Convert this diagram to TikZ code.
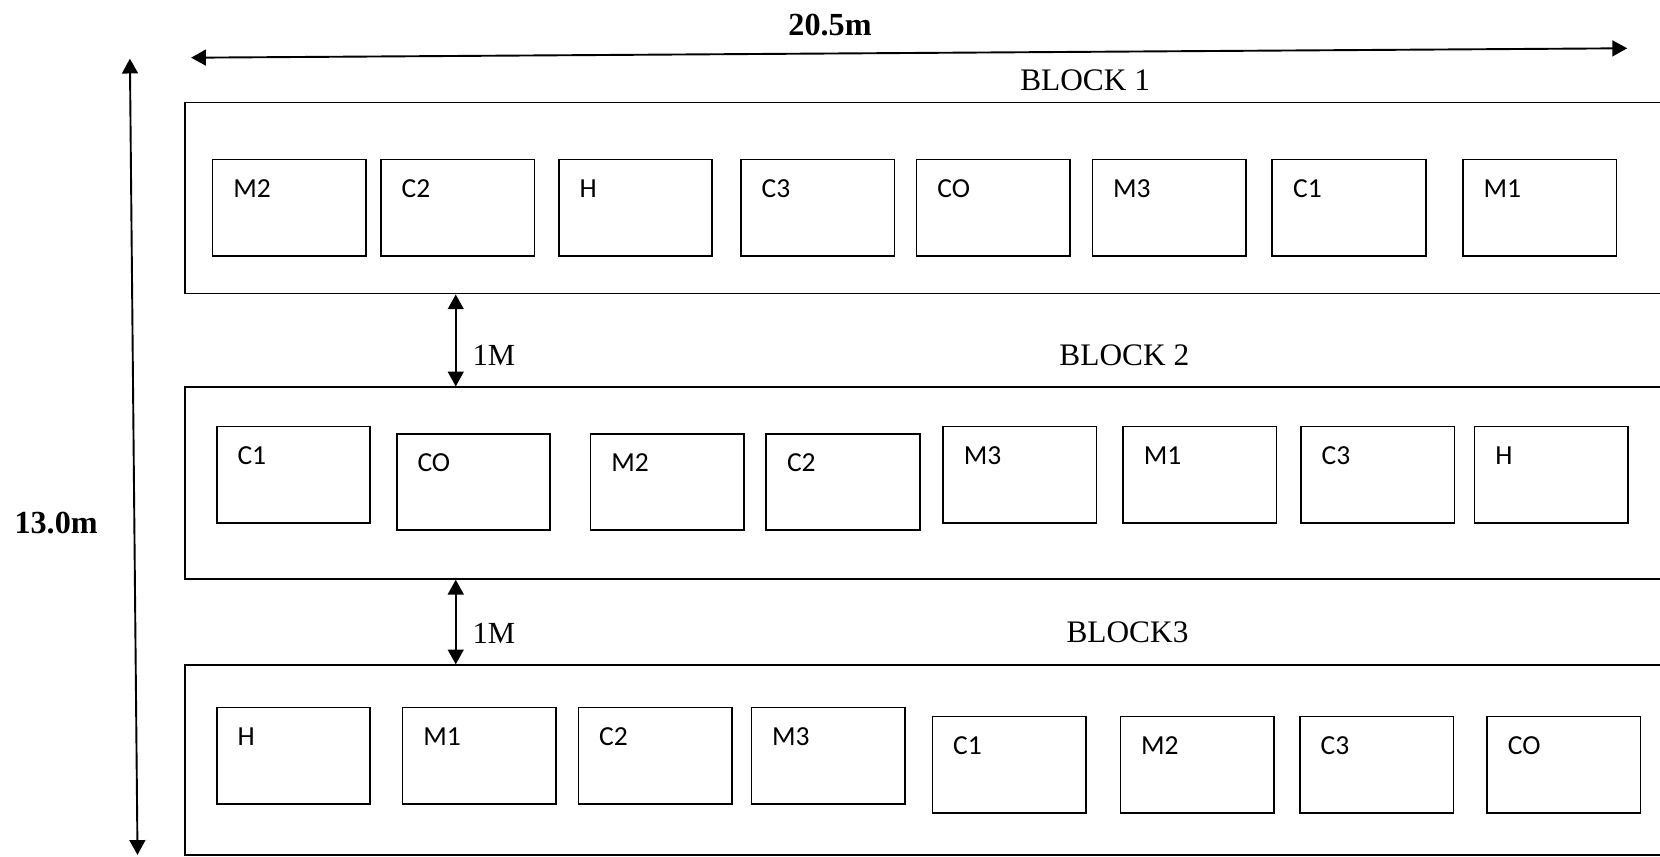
\documentclass[tikz,border=0pt]{standalone}
\usepackage{fontspec}
\setmainfont{Liberation Serif}
\newfontfamily\roomfont{Carlito}
\usetikzlibrary{arrows.meta}

\tikzset{
    room/.style={draw, line width=0.75pt, minimum width=72.5pt, minimum height=45.5pt, inner sep=0pt, anchor=north west},
    roomname/.style={anchor=west, xshift=10pt, yshift=-14pt, inner sep=0pt, font=\roomfont\fontsize{13}{15}\selectfont},
    block/.style={draw, line width=0.8pt, minimum width=703pt, minimum height=90.25pt, inner sep=0pt, anchor=north west},
    blocktitle/.style={inner sep=0pt, font=\fontsize{14.8}{17}\selectfont},
    gaptext/.style={inner sep=0pt, anchor=west, font=\fontsize{14.5}{17}\selectfont},
    dimtext/.style={inner sep=0pt, font=\bfseries\fontsize{15.2}{18}\selectfont},
    dimarrow/.style={{Triangle[length=7pt,width=7.5pt]}-{Triangle[length=7pt,width=7.5pt]}, line width=0.9pt},
}

\begin{document}
\begin{tikzpicture}[x=0.5pt, y=-0.5pt]
    \useasboundingbox (0,0) rectangle (1568,809);
    \clip (0,0) rectangle (1568,809);

    % overall size
    \coordinate (wl) at (180.5,54.5);
    \coordinate (wr) at (1537,45.6);
    \draw[dimarrow] (wl) -- (wr);
    \node[dimtext] (width) at (784,23.6) {20.5m};
    \coordinate (ht) at (122.7,55.4);
    \coordinate (hb) at (129.9,807.5);
    \draw[dimarrow] (ht) -- (hb);
    \node[dimtext] (height) at (53,494) {13.0m};

    % BLOCK 1
    \node[block] (block1) at (174,96) {};
    \node[blocktitle] (title1) at (1025,76) {BLOCK 1};
    \foreach \x/\name [count=\i] in {200/M2, 359/C2, 527/H, 699/C3, 865/CO, 1031/M3, 1201/C1, 1381/M1}
        \node[room, label={[roomname]north west:\name}] (b1-\i) at (\x,150) {};

    % BLOCK 2
    \node[block, minimum height=90.5pt] (block2) at (174,365) {};
    \node[blocktitle] (title2) at (1062,336) {BLOCK 2};
    \foreach \x/\y/\name [count=\i] in {204/402/C1, 374/409/CO, 557/409/M2, 723/409/C2, 890/402/M3, 1060/402/M1, 1228/402/C3, 1392/402/H}
        \node[room, label={[roomname]north west:\name}] (b2-\i) at (\x,\y) {};

    % BLOCK3
    \node[block, minimum height=89.5pt] (block3) at (174,627.5) {};
    \node[blocktitle] (title3) at (1065,597) {BLOCK3};
    \foreach \x/\y/\name [count=\i] in {204/667.5/H, 379.5/667.5/M1, 545.5/667.5/C2, 709/667.5/M3, 880/676/C1, 1057.5/676/M2, 1227/676/C3, 1404/676/CO}
        \node[room, label={[roomname]north west:\name}] (b3-\i) at (\x,\y) {};

    % 1M gaps
    \coordinate (gap) at (430.5,0);
    \draw[dimarrow] (gap |- block1.south) -- (gap |- block2.north);
    \node[gaptext] (gap1) at (446,336) {1M};
    \draw[dimarrow] (gap |- block2.south) -- (gap |- block3.north);
    \node[gaptext] (gap2) at (446,598) {1M};
\end{tikzpicture}
\end{document}
